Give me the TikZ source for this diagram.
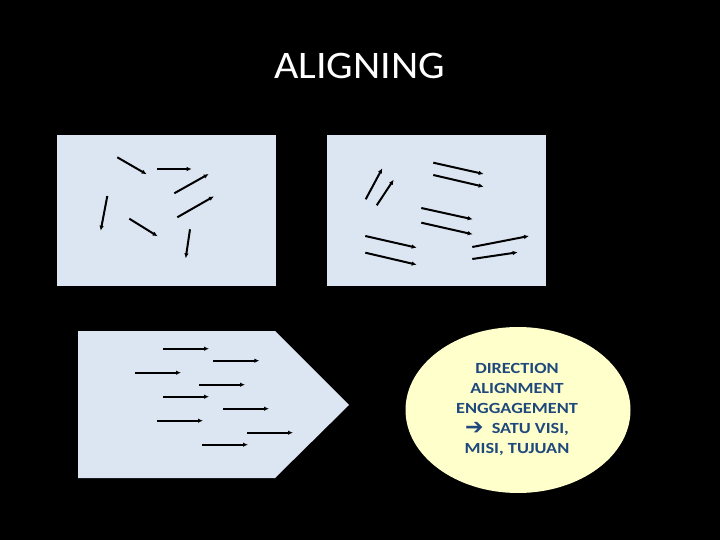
\documentclass[tikz,border=0pt]{standalone}
\usepackage{fontspec}
\setmainfont{Carlito}
\newfontfamily\ellfont[FakeStretch=1.18]{Carlito}
\newfontfamily\titlefont[FakeStretch=1.08]{Carlito}
\newfontfamily\symfont{DejaVu Sans}
\usetikzlibrary{arrows.meta}
\definecolor{boxfill}{HTML}{DCE6F2}
\definecolor{ellfill}{HTML}{FFFFCC}
\definecolor{txtblue}{HTML}{1F497D}
\tikzset{
  panel/.style={fill=boxfill, draw=none},
  arr/.style={line width=2pt, -{Latex[length=5pt,width=4.5pt]}, black},
}
\begin{document}
\begin{tikzpicture}[x=1pt,y=-1pt]
\fill[black] (0,0) rectangle (720,540);
\useasboundingbox (0,0) rectangle (720,540);
\node[text=white, font=\titlefont\fontsize{39}{44}\selectfont, anchor=base] (title) at (359.7,78.3) {ALIGNING};
% panel 1
\path[panel] (57,135) rectangle (276,286);
\coordinate (a1s) at (117.3,157.3); \coordinate (a1e) at (146.7,174.3);
\coordinate (a2s) at (157.3,169); \coordinate (a2e) at (191.7,169);
\coordinate (a3s) at (174.3,193.3); \coordinate (a3e) at (208.7,174);
\coordinate (a4s) at (107.3,196); \coordinate (a4e) at (100.7,230.7);
\coordinate (a5s) at (177.3,217.3); \coordinate (a5e) at (214,196.3);
\coordinate (a6s) at (129.3,218.7); \coordinate (a6e) at (157.7,236.3);
\coordinate (a7s) at (190,229.3); \coordinate (a7e) at (185.7,258.3);
\foreach \i in {1,...,7} \draw[arr] (a\i s) -- (a\i e);
% panel 2
\path[panel] (327,135) rectangle (546,286);
\coordinate (b1s) at (365.7,199.3); \coordinate (b1e) at (382.3,168.3);
\coordinate (b2s) at (376.7,205.3); \coordinate (b2e) at (393.7,179.7);
\coordinate (b3s) at (433.3,162.7); \coordinate (b3e) at (483.7,174);
\coordinate (b4s) at (433.3,175); \coordinate (b4e) at (483.7,186.7);
\coordinate (b5s) at (421.3,208); \coordinate (b5e) at (472.7,219.3);
\coordinate (b6s) at (421.3,222.7); \coordinate (b6e) at (472.7,234.3);
\coordinate (b7s) at (365.3,236); \coordinate (b7e) at (416.7,247.7);
\coordinate (b8s) at (365.3,252.7); \coordinate (b8e) at (416.7,264.7);
\coordinate (b9s) at (472.3,247); \coordinate (b9e) at (529,236);
\coordinate (b10s) at (472.3,259); \coordinate (b10e) at (517.7,252.3);
\foreach \i in {1,...,10} \draw[arr] (b\i s) -- (b\i e);
% pentagon
\path[panel] (78,331) -- (275,331) -- (349,405) -- (275,478) -- (78,478) -- cycle;
\foreach \i/\xs/\y in {1/163/348.7, 2/213.3/360.7, 3/135/372.7, 4/199/384.7, 5/163/396.7, 6/223/408.7, 7/157/420.7, 8/247/432.7, 9/202/444.7} {
  \coordinate (c\i s) at (\xs,\y);
  \coordinate (c\i e) at (\xs+46,\y);
  \draw[arr] (c\i s) -- (c\i e);
}
% ellipse
\fill[ellfill] (518,410) ellipse [x radius=112.5, y radius=83];
\node[text=txtblue, font=\ellfont\bfseries\fontsize{15.5}{20}\selectfont, align=center, anchor=center] (goal) at (517,409)
  {DIRECTION\\ALIGNMENT\\ENGGAGEMENT\\\raisebox{-1pt}{\symfont\bfseries\fontsize{22}{20}\selectfont ➔}\ \ SATU VISI,\\MISI, TUJUAN};
\end{tikzpicture}
\end{document}
